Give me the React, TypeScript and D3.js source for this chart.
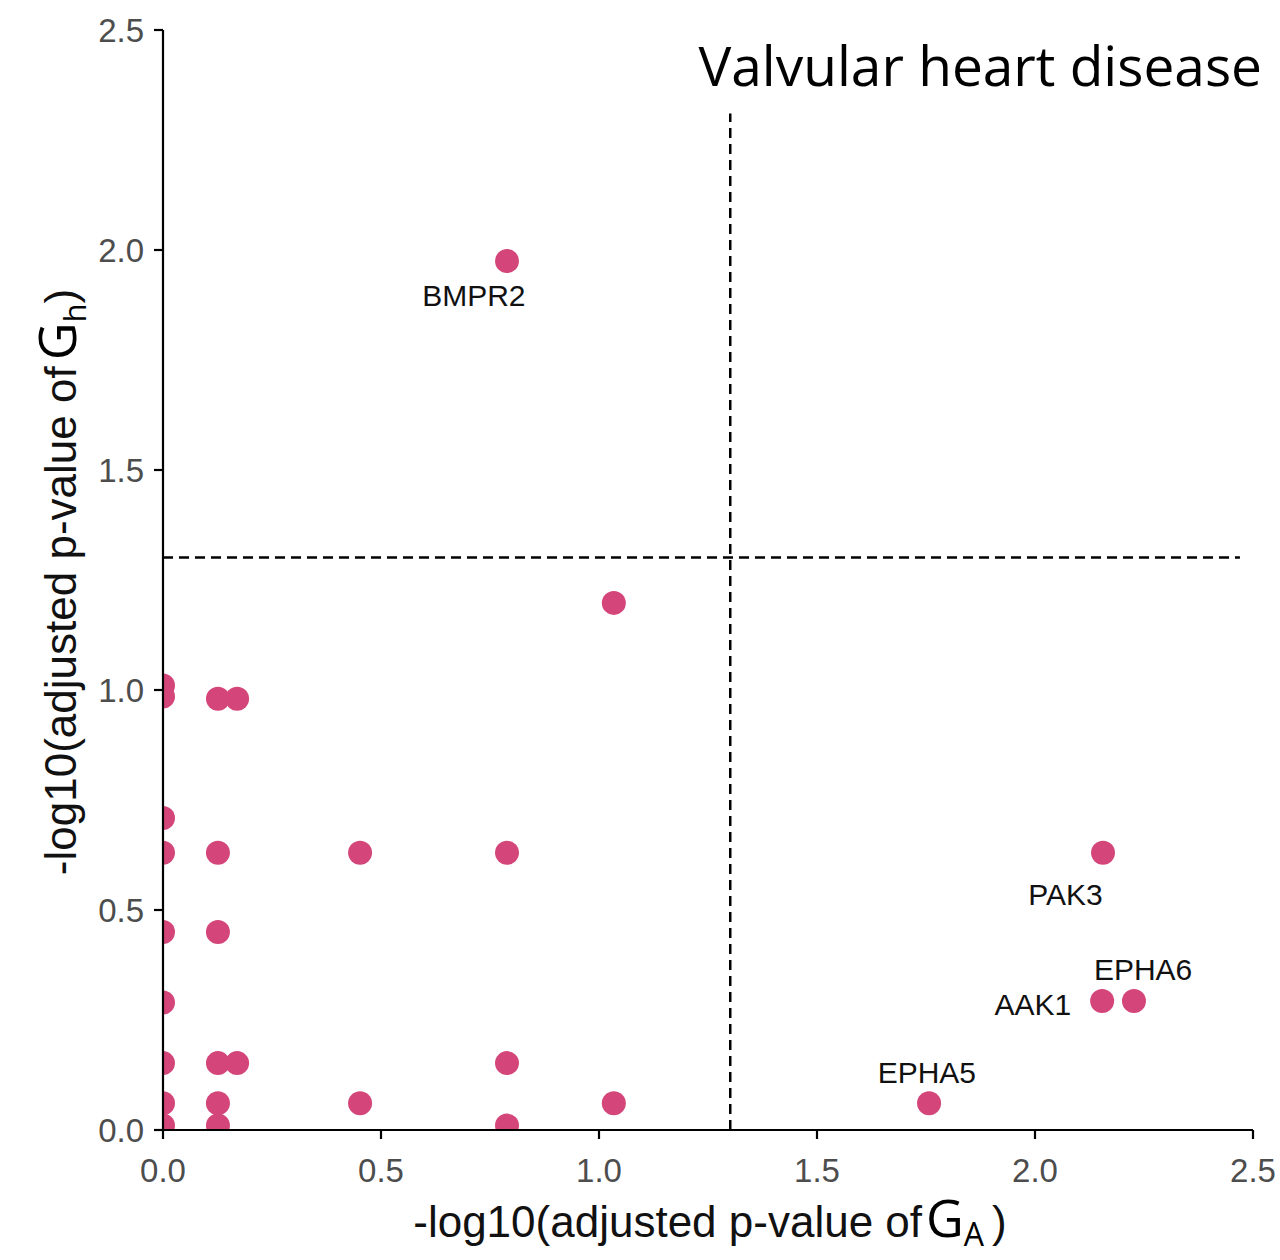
import React, { useEffect } from "react";
import * as d3 from "d3";

const pointsX = [0.789, 1.034, 0, 0, 0.126, 0.17, 0, 0, 0, 0, 0, 0, 0, 0.126, 0.126, 0.126, 0.126, 0.126, 0.17, 0.452, 0.452, 0.789, 0.789, 0.789, 1.034, 2.156, 2.154, 2.227, 1.757];
const pointsY = [1.975, 1.198, 1.01, 0.985, 0.98, 0.98, 0.709, 0.63, 0.45, 0.29, 0.152, 0.061, 0.01, 0.63, 0.45, 0.152, 0.061, 0.01, 0.152, 0.63, 0.061, 0.63, 0.152, 0.01, 0.061, 0.63, 0.293, 0.293, 0.061];

const labelNames = ["BMPR2", "PAK3", "AAK1", "EPHA6", "EPHA5"];
const labelX = [0.713, 2.07, 1.995, 2.248, 1.752];
const labelY = [1.89, 0.53, 0.28, 0.36, 0.125];

const xTicks = [0, 0.5, 1, 1.5, 2, 2.5];
const yTicks = [0, 0.5, 1, 1.5, 2, 2.5];
const threshold = 1.30103;

export default function App() {
  useEffect(() => {
    document.body.style.margin = "0";
  }, []);
  const x = d3.scaleLinear().domain([0, 2.5]).range([163, 1253]);
  const y = d3.scaleLinear().domain([0, 2.5]).range([1130, 30]);
  const fmt = d3.format(".1f");
  const col = "#d4467a";
  const tickCol = "#4d4d4d";
  const font = "Liberation Sans, Arial, sans-serif";
  return (
    <svg width={1280} height={1260} style={{ display: "block", background: "#fff" }}>
      <defs>
        <clipPath id="clip">
          <rect x={x(0)} y={y(2.5)} width={x(2.5) - x(0)} height={y(0) - y(2.5)} />
        </clipPath>
      </defs>
      {/* dashed reference lines */}
      <line x1={x(threshold)} x2={x(threshold)} y1={y(0)} y2={y(2.31)} stroke="#000" strokeWidth={2.5} strokeDasharray="10,6" />
      <line x1={x(0)} x2={x(2.47)} y1={y(threshold)} y2={y(threshold)} stroke="#000" strokeWidth={2.5} strokeDasharray="10,6" />
      {/* points */}
      <g clipPath="url(#clip)">
        {pointsX.map((v, i) => (
          <circle key={i} cx={x(v)} cy={y(pointsY[i])} r={12} fill={col} />
        ))}
      </g>
      {/* axes */}
      <line x1={x(0)} x2={x(0)} y1={y(0)} y2={y(2.5)} stroke="#000" strokeWidth={2.2} />
      <line x1={x(0)} x2={x(2.5)} y1={y(0)} y2={y(0)} stroke="#000" strokeWidth={2.2} />
      {xTicks.map((t) => (
        <g key={"x" + t}>
          <line x1={x(t)} x2={x(t)} y1={y(0)} y2={y(0) + 9} stroke="#000" strokeWidth={2.2} />
          <text x={x(t)} y={y(0) + 52} textAnchor="middle" fontFamily={font} fontSize={33} fill={tickCol}>{fmt(t)}</text>
        </g>
      ))}
      {yTicks.map((t) => (
        <g key={"y" + t}>
          <line x1={x(0) - 9} x2={x(0)} y1={y(t)} y2={y(t)} stroke="#000" strokeWidth={2.2} />
          <text x={x(0) - 19} y={y(t) + 12} textAnchor="end" fontFamily={font} fontSize={33} fill={tickCol}>{fmt(t)}</text>
        </g>
      ))}
      {/* point labels */}
      {labelNames.map((n, i) => (
        <text key={n} x={x(labelX[i])} y={y(labelY[i])} textAnchor="middle" dominantBaseline="middle" fontFamily={font} fontSize={30} fill="#111">{n}</text>
      ))}
      {/* axis titles */}
      <text x={710} y={1237} textAnchor="middle" fontFamily={font} fontSize={44} fill="#111">
        -log10(adjusted p-value of
        <tspan fontFamily="Open Sans, sans-serif" fontSize={52} dx={4} fill="#000">G</tspan>
        <tspan fontFamily="Open Sans, sans-serif" fontSize={32} dy={9} fill="#000">A</tspan>
        <tspan dy={-9} dx={8}>)</tspan>
      </text>
      <text transform="translate(76,582) rotate(-90)" textAnchor="middle" fontFamily={font} fontSize={44} fill="#111">
        -log10(adjusted p-value of
        <tspan fontFamily="Open Sans, sans-serif" fontSize={52} dx={6} fill="#000">G</tspan>
        <tspan fontFamily="Open Sans, sans-serif" fontSize={31} dy={10} fill="#000">h</tspan>
        <tspan dy={-10}>)</tspan>
      </text>
      {/* title */}
      <text x={1262} y={86} textAnchor="end" fontFamily="Open Sans, sans-serif" fontSize={55} fill="#000">Valvular heart disease</text>
    </svg>
  );
}
